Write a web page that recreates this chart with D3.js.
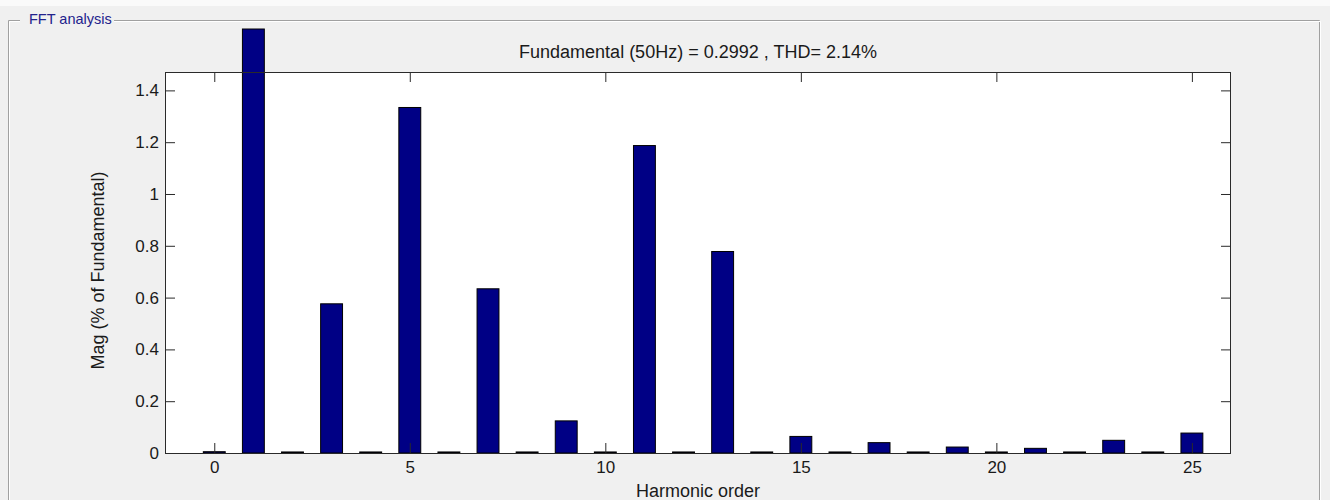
<!DOCTYPE html>
<html>
<head>
<meta charset="utf-8">
<script src="https://cdn.jsdelivr.net/npm/d3@7"></script>
<style>
    body { margin: 0; background: #f0f0f0; }
    svg { display: block; }
    text { font-family: "Liberation Sans", Arial, sans-serif; fill: #1a1a1a; }
</style>
</head>
<body>
<div class="curr-graff"></div>
<script>
// harmonic order and magnitude (% of fundamental)
const harmonics = [0, 1, 2, 3, 4, 5, 6, 7, 8, 9, 10, 11, 12, 13, 14, 15, 16, 17, 18, 19, 20, 21, 22, 23, 24, 25];
const magnitudes = [0.005, 1.637, 0.004, 0.576, 0.004, 1.334, 0.004, 0.634, 0.004, 0.124, 0.004, 1.187, 0.004, 0.778,
    0.004, 0.064, 0.004, 0.040, 0.004, 0.023, 0.004, 0.018, 0.004, 0.049, 0.004, 0.077];
const xTicks = [0, 5, 10, 15, 20, 25];
const yTicks = [0, 0.2, 0.4, 0.6, 0.8, 1, 1.2, 1.4];

const titleText = "Fundamental (50Hz) = 0.2992 , THD= 2.14%";
const xLabel = "Harmonic order";
const yLabel = "Mag (% of Fundamental)";
const panelTitle = "FFT analysis";

function drawPanel(svg, width, height) {
    svg.append("rect").attr("width", width).attr("height", height).attr("fill", "#f0f0f0");
    svg.append("rect").attr("width", width).attr("height", 6).attr("fill", "#fafafa");

    // group box frame
    let frame = svg.append("g").attr("fill", "none");
    frame.append("path")
        .attr("d", "M8.5,500 V20.5 H20")
        .attr("stroke", "#a0a0a0");
    frame.append("path")
        .attr("d", "M9.5,500 V21.5 H20")
        .attr("stroke", "#ffffff");
    frame.append("path")
        .attr("d", "M114,20.5 H1319.5 V500")
        .attr("stroke", "#a0a0a0");
    frame.append("path")
        .attr("d", "M114,21.5 H1320.5 V500")
        .attr("stroke", "#ffffff");

    svg.append("text")
        .attr("x", 29)
        .attr("y", 24)
        .style("font-size", "14.5px")
        .style("fill", "#22228c")
        .text(panelTitle);
}

function drawBars(svg) {
    let left = 165, right = 1231, top = 72, bottom = 453;

    let xScale = d3.scaleLinear()
        .domain([-1.26, 26.0])
        .range([left, right]);

    let yScale = d3.scaleLinear()
        .domain([0, 1.471])
        .range([bottom, top]);

    // axes background
    svg.append("rect")
        .attr("x", left)
        .attr("y", top)
        .attr("width", right - left)
        .attr("height", bottom - top)
        .attr("fill", "#ffffff");

    let halfW = 0.28;
    svg.append("g")
        .selectAll("rect")
        .data(harmonics)
        .enter().append("rect")
        .attr("x", function(d) { return xScale(d - halfW); })
        .attr("width", function(d) { return xScale(d + halfW) - xScale(d - halfW); })
        .attr("y", function(d, i) { return yScale(magnitudes[i]); })
        .attr("height", function(d, i) { return bottom - yScale(magnitudes[i]); })
        .attr("fill", "#000085")
        .attr("stroke", "#000000")
        .attr("stroke-width", 1);

    // ticks point inward on all four sides
    let axisB = d3.axisBottom(xScale).tickValues(xTicks).tickSizeInner(-10).tickSizeOuter(0).tickPadding(8);
    let axisT = d3.axisTop(xScale).tickValues(xTicks).tickSizeInner(-10).tickSizeOuter(0).tickFormat("");
    let axisL = d3.axisLeft(yScale).tickValues(yTicks).tickSizeInner(-10).tickSizeOuter(0).tickPadding(6)
        .tickFormat(d3.format("~g"));
    let axisR = d3.axisRight(yScale).tickValues(yTicks).tickSizeInner(-10).tickSizeOuter(0).tickFormat("");

    let gB = svg.append("g").attr("transform", `translate(0, ${bottom})`).call(axisB);
    let gT = svg.append("g").attr("transform", `translate(0, ${top})`).call(axisT);
    let gL = svg.append("g").attr("transform", `translate(${left}, 0)`).call(axisL);
    let gR = svg.append("g").attr("transform", `translate(${right}, 0)`).call(axisR);

    [gB, gT, gL, gR].forEach(function(g) {
        g.select(".domain").remove();
        g.selectAll("line").attr("stroke", "#2a2a2a");
        g.selectAll("text")
            .attr("fill", "#1a1a1a")
            .style("font-size", "17px")
            .style("font-family", "'Liberation Sans', Arial, sans-serif");
    });

    svg.append("rect")
        .attr("x", left + 0.5)
        .attr("y", top + 0.5)
        .attr("width", right - left - 1)
        .attr("height", bottom - top)
        .attr("fill", "none")
        .attr("stroke", "#2a2a2a");

    svg.append("text")
        .attr("x", (left + right) / 2)
        .attr("y", 58)
        .style("text-anchor", "middle")
        .style("font-size", "18px")
        .text(titleText);

    svg.append("text")
        .attr("x", (left + right) / 2)
        .attr("y", 497)
        .style("text-anchor", "middle")
        .style("font-size", "18px")
        .text(xLabel);

    svg.append("text")
        .attr("transform", `translate(104, ${(top + bottom) / 2 + 8}) rotate(-90)`)
        .style("text-anchor", "middle")
        .style("font-size", "18px")
        .text(yLabel);
}

let width = 1330;
let height = 500;

let svg = d3.select(".curr-graff")
    .append("svg")
    .attr("width", width)
    .attr("height", height);

drawPanel(svg, width, height);
drawBars(svg);
</script>
</body>
</html>
